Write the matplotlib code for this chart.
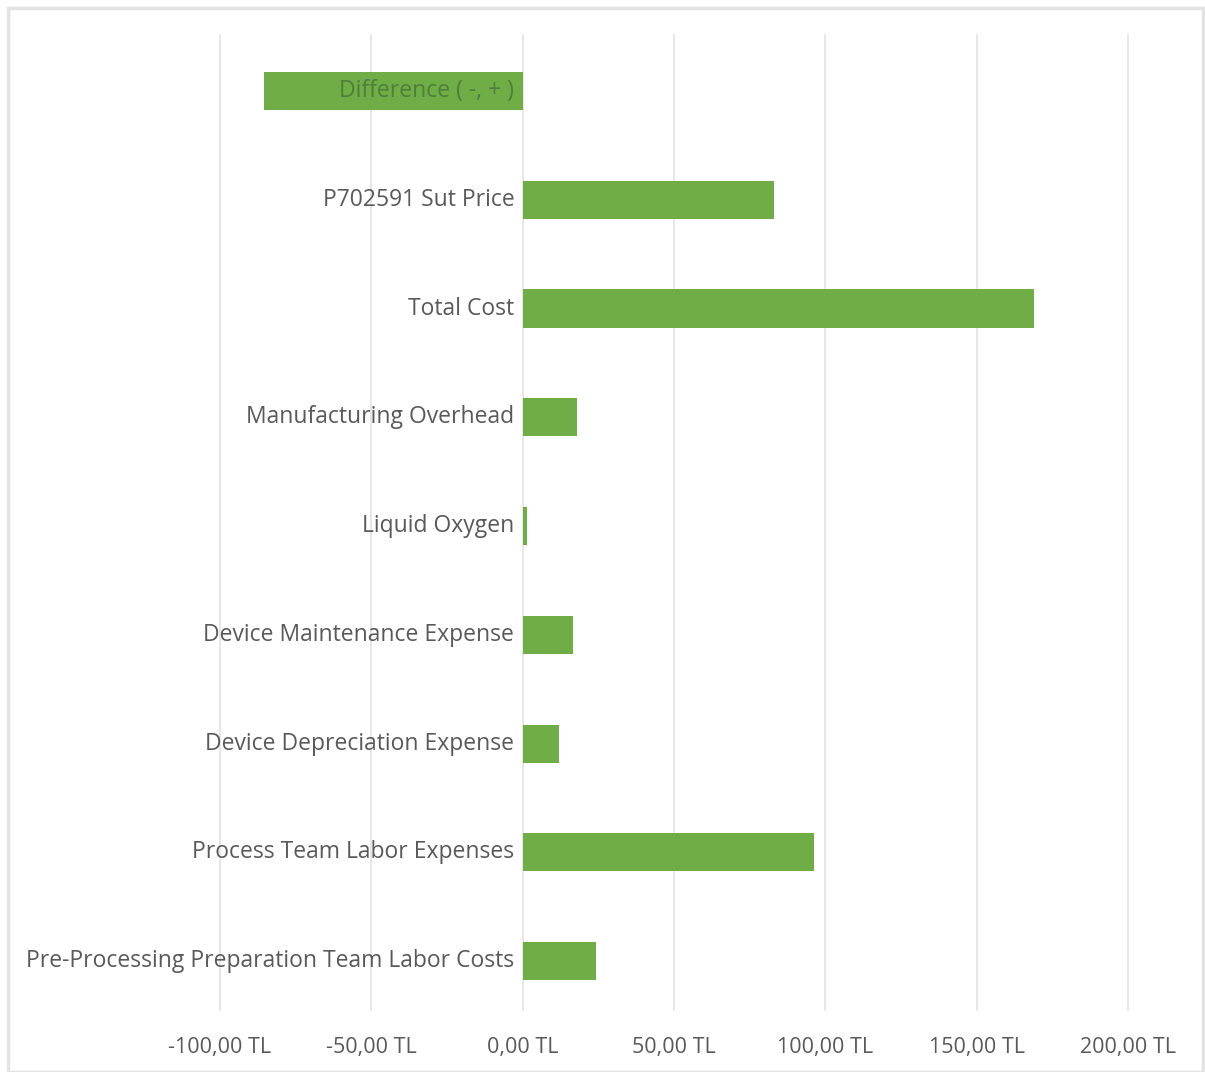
"""Horizontal cost breakdown bar chart, Excel style."""

import matplotlib

matplotlib.use("Agg")
import matplotlib.pyplot as plt
from matplotlib.patches import Rectangle

categories = [
    "Pre-Processing Preparation Team Labor Costs",
    "Process Team Labor Expenses",
    "Device Depreciation Expense",
    "Device Maintenance Expense",
    "Liquid Oxygen",
    "Manufacturing Overhead",
    "Total Cost",
    "P702591 Sut Price",
    "Difference ( -, + )",
]
values = [24.1, 96.2, 11.9, 16.5, 1.3, 17.8, 168.9, 82.9, -85.3]
x_ticks = [-100, -50, 0, 50, 100, 150, 200]
x_tick_labels = ["-100,00 TL", "-50,00 TL", "0,00 TL", "50,00 TL", "100,00 TL", "150,00 TL", "200,00 TL"]

BAR_COLOR = "#70ad47"
TEXT_COLOR = "#595959"
GRID_COLOR = "#e3e3e3"
FONT = ["Open Sans", "DejaVu Sans"]


def draw_chart():
    fig = plt.figure(figsize=(12.05, 10.72), dpi=100)
    ax = fig.add_axes([220 / 1205, 1 - 1010 / 1072, 908 / 1205, 975 / 1072])

    ypos = list(range(len(categories)))
    ax.barh(ypos, values, height=0.35, color=BAR_COLOR, zorder=2)

    ax.set_xlim(x_ticks[0], x_ticks[-1])
    ax.set_ylim(-0.45, len(categories) - 1 + 0.515)
    ax.set_xticks([])
    ax.set_yticks([])
    for side in ax.spines.values():
        side.set_visible(False)
    for x in x_ticks:
        ax.axvline(x, color=GRID_COLOR, lw=1.2, zorder=0, clip_on=False)

    # category labels sit just left of the zero line, like Excel's "next to axis"
    for y, name, value in zip(ypos, categories, values):
        color = "#4e7f38" if value < 0 else TEXT_COLOR
        ax.annotate(
            name, (0, y), xytext=(-6, 0), textcoords="offset points",
            ha="right", va="center", fontsize=16.5, color=color,
            family=FONT, zorder=3,
        )

    for x, label in zip(x_ticks, x_tick_labels):
        ax.annotate(
            label, (x, 0), xycoords=("data", "axes fraction"),
            xytext=(0, -27), textcoords="offset points",
            ha="center", va="center", fontsize=15.5, color=TEXT_COLOR,
            family=FONT, annotation_clip=False,
        )

    fig.patches.append(Rectangle(
        (8 / 1205, 0), 1 - 10 / 1205, 1 - 8 / 1072,
        transform=fig.transFigure, fill=False, ec=GRID_COLOR, lw=2.5,
    ))
    return fig


fig = draw_chart()
fig.savefig("out.png", dpi=100, facecolor="white")
